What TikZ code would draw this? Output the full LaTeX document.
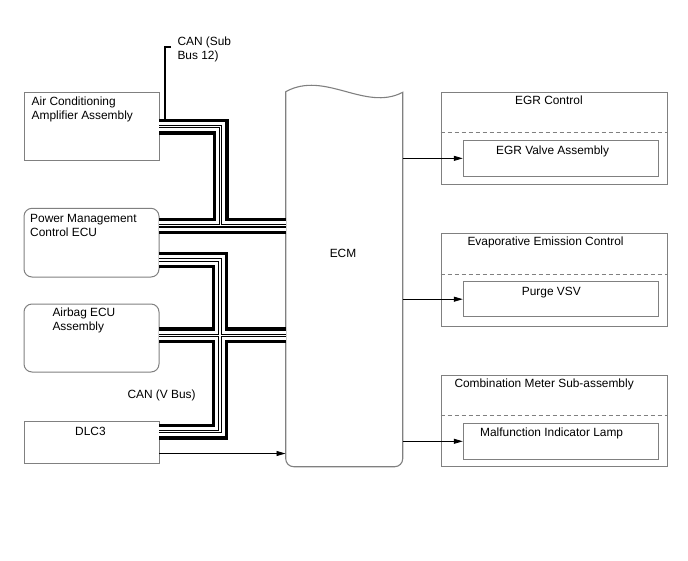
\documentclass[tikz,border=0pt]{standalone}
\usepackage{fontspec}
\setmainfont{Liberation Sans}
\usetikzlibrary{arrows.meta}
\definecolor{boxgray}{HTML}{808080}
\begin{document}
\begin{tikzpicture}[x=1pt,y=-1pt,
  box/.style={draw=boxgray, line width=1pt, inner sep=0pt, rectangle},
  rbox/.style={box, rounded corners=8pt},
  txt/.style={inner sep=0pt, anchor=base west, font=\fontsize{11.9}{14}\selectfont, align=left},
  arr/.style={draw=black, line width=0.8pt, -{Triangle[length=9pt,width=5pt]}},
  dashline/.style={draw=boxgray, line width=0.8pt, dash pattern=on 4pt off 3pt}]
\useasboundingbox (0,0) rectangle (688,560);

% left boxes
\node[box, minimum width=135pt, minimum height=68.4pt] (ac) at (91.5,126.5) {};
\node[rbox, minimum width=135pt, minimum height=68.7pt] (pm) at (91.5,242.65) {};
\node[rbox, minimum width=135pt, minimum height=68pt] (ab) at (91.5,338) {};
\node[box, minimum width=135pt, minimum height=41.6pt] (dlc) at (91.5,442.5) {};

% multi-line nodes: base anchor is the last line's baseline
\node[txt] (actxt) at (31.5,119.5) {Air Conditioning\\Amplifier Assembly};
\node[txt] (pmtxt) at (30,236.3) {Power Management\\Control ECU};
\node[txt] (abtxt) at (52.3,330.7) {Airbag ECU\\Assembly};
\node[txt] (dlctxt) at (75,435) {DLC3};
\node[txt] (canv) at (127.3,398) {CAN (V Bus)};
\node[txt] (cans) at (177.3,59) {CAN (Sub\\Bus 12)};

% ECM
\node[inner sep=0pt, minimum width=117pt, minimum height=375pt] (ecm) at (344.2,279.2) {};
\draw[draw=boxgray, line width=1.1pt]
  (285.7,91.7) .. controls (325,70) and (365,112) .. (402.7,92.3)
  [rounded corners=8pt] -- (402.7,466.7) -- (285.7,466.7) -- (285.7,91.7);
\node[txt, anchor=center] (ecmtxt) at (343,253) {ECM};

% right boxes
\node[box, minimum width=226.7pt, minimum height=92pt] (egr) at (554.35,138.3) {};
\node[box, minimum width=195pt, minimum height=35.3pt] (egrin) at (560.8,158.35) {};
\node[box, minimum width=226.7pt, minimum height=92.7pt] (evp) at (554.35,279.65) {};
\node[box, minimum width=195pt, minimum height=35pt] (evpin) at (560.8,299.2) {};
\node[box, minimum width=226.7pt, minimum height=91.7pt] (cmb) at (554.35,420.85) {};
\node[box, minimum width=195pt, minimum height=36pt] (cmbin) at (560.8,441.3) {};

\draw[dashline] (egr.west |- 0,132.3) -- (egr.east |- 0,132.3);
\draw[dashline] (evp.west |- 0,274) -- (evp.east |- 0,274);
\draw[dashline] (cmb.west |- 0,415) -- (cmb.east |- 0,415);

\node[txt] (egrtxt) at (515,104.5) {EGR Control};
\node[txt] (egrintxt) at (496,154) {EGR Valve Assembly};
\node[txt] (evptxt) at (467.3,245.7) {Evaporative Emission Control};
\node[txt] (evpintxt) at (521.7,295.7) {Purge VSV};
\node[txt] (cmbtxt) at (454.3,387.3) {Combination Meter Sub-assembly};
\node[txt] (cmbintxt) at (480,436) {Malfunction Indicator Lamp};

% arrows
\draw[arr] (ecm.east |- egrin.west) -- (egrin.west);
\draw[arr] (ecm.east |- evpin.west) -- (evpin.west);
\draw[arr] (ecm.east |- cmbin.west) -- (cmbin.west);
\coordinate (d3a) at (159,453.5);
\draw[arr] (d3a) -- (d3a -| ecm.west);

% buses
\coordinate (b1a) at (159,126.5);
\coordinate (b1b) at (220.5,126.5);
\coordinate (b1c) at (220.5,225.8);
\coordinate (t1a) at (159,225.8);
\coordinate (t1b) at (285.7,225.8);
\coordinate (b2a) at (159,260);
\coordinate (b2b) at (220,260);
\coordinate (b2c) at (220,431.5);
\coordinate (b2d) at (159,431.5);
\coordinate (t2a) at (159,335.3);
\coordinate (t2b) at (285.7,335.3);
\foreach \w/\c in {16/black,9.4/white,3.4/black,1.2/white}{
  \draw[line width=\w pt, \c, line join=miter] (b1a) -- (b1b) -- (b1c);
  \draw[line width=\w pt, \c] (t1a) -- (t1b);
  \draw[line width=\w pt, \c, line join=miter] (b2a) -- (b2b) -- (b2c) -- (b2d);
  \draw[line width=\w pt, \c] (t2a) -- (t2b);
}

% CAN sub bus bracket
\coordinate (br1) at (171,47);
\coordinate (br2) at (165,47);
\coordinate (br3) at (165,118.5);
\draw[line width=1.3pt] (br1) -- (br2) -- (br3);
\end{tikzpicture}
\end{document}
